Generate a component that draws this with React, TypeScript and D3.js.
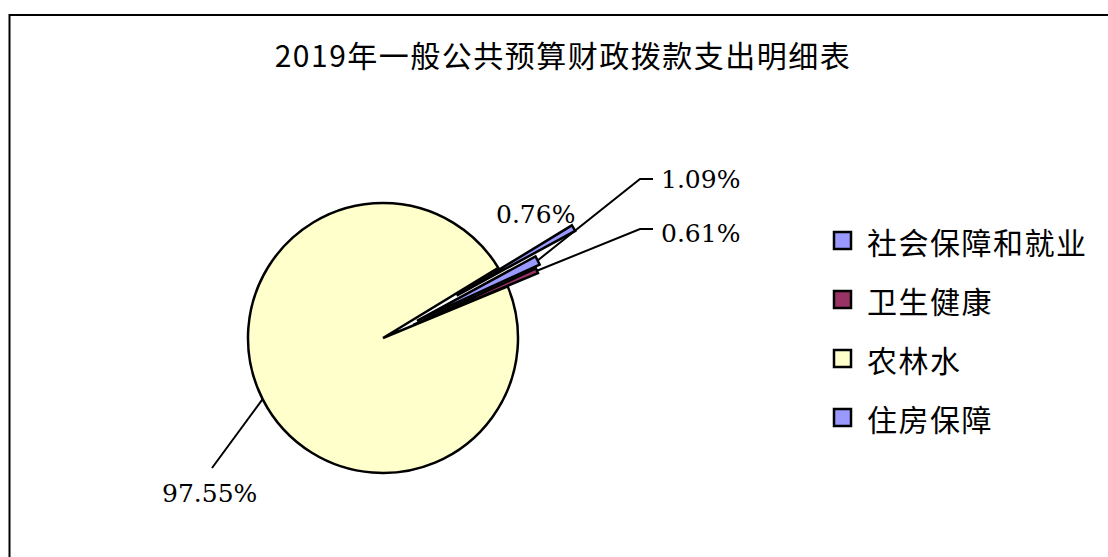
import React from "react";
import * as d3 from "d3";

// data
const categories = ["社会保障和就业", "卫生健康", "农林水", "住房保障"];
const shares = [1.09, 0.61, 97.55, 0.76];
const labels = ["1.09%", "0.61%", "97.55%", "0.76%"];
const title = "2019年一般公共预算财政拨款支出明细表";

// styles / layout
const W = 1108;
const H = 557;
const colors = ["#9999FF", "#993366", "#FFFFCC", "#9999FF"];
const explode = [38, 33, 0, 85];
const cx = 383;
const cy = 338;
const R = 135;
const startDeg = 61.4;
// label anchor positions (text start / baseline) and whether a leader line is drawn
const labelPos: { x: number; y: number; leader: boolean; elbow?: [number, number] }[] = [
  { x: 661, y: 188, leader: true, elbow: [640, 179] },
  { x: 661, y: 242, leader: true, elbow: [640, 229] },
  { x: 162, y: 502, leader: true, elbow: [212, 468] },
  { x: 496, y: 223, leader: false },
];
const cjk = "'Noto Sans CJK SC', 'Noto Sans', sans-serif";
const num = "'DejaVu Serif', serif";

const App = () => {
  const pie = d3
    .pie<number>()
    .sort(null)
    .value((d) => d)
    .startAngle((startDeg * Math.PI) / 180)
    .endAngle((startDeg * Math.PI) / 180 + 2 * Math.PI);
  const arcs = pie(shares);
  const arc = d3.arc<d3.PieArcDatum<number>>().innerRadius(0).outerRadius(R);

  const dir = (a: d3.PieArcDatum<number>) => {
    const m = (a.startAngle + a.endAngle) / 2;
    return [Math.sin(m), -Math.cos(m)];
  };

  // draw the big slice first, then small ones on top
  const order = [2, 0, 1, 3];

  return (
    <svg
      width={W}
      height={H}
      style={{ position: "absolute", left: 0, top: 0, background: "#fff" }}
    >
      <rect x={9.5} y={15} width={W + 20} height={H + 20} fill="#fff" stroke="#000" strokeWidth={2} />
      <text
        x={563}
        y={54}
        textAnchor="middle"
        dominantBaseline="central"
        fontFamily={cjk}
        fontSize={30}
        letterSpacing={1.5}
        fill="#000"
      >
        {title}
      </text>
      <g transform={`translate(${cx},${cy})`}>
        {order.map((i) => {
          const a = arcs[i];
          const [ux, uy] = dir(a);
          const off = explode[i];
          return (
            <path
              key={i}
              d={arc(a) || ""}
              transform={`translate(${ux * off},${uy * off})`}
              fill={colors[i]}
              stroke="#000"
              strokeWidth={2.5}
              strokeLinejoin="miter"
            />
          );
        })}
      </g>
      {arcs.map((a, i) => {
        const lp = labelPos[i];
        if (!lp.leader || !lp.elbow) return null;
        const [ux, uy] = dir(a);
        const r = R + explode[i];
        const tx = cx + ux * r;
        const ty = cy + uy * r;
        const pts: [number, number][] =
          i === 2
            ? [[tx, ty], lp.elbow]
            : [[tx, ty], lp.elbow, [lp.elbow[0] + 13, lp.elbow[1]]];
        return (
          <path
            key={"l" + i}
            d={d3.line()(pts) || ""}
            fill="none"
            stroke="#000"
            strokeWidth={2}
          />
        );
      })}
      {arcs.map((a, i) => (
        <text
          key={"t" + i}
          x={labelPos[i].x}
          y={labelPos[i].y}
          fontFamily={num}
          fontSize={25}
          fill="#000"
        >
          {labels[i]}
        </text>
      ))}
      <g transform="translate(834,241)">
        {categories.map((c, i) => (
          <g key={c} transform={`translate(0,${i * 59})`}>
            <rect x={0} y={-9} width={17} height={17} fill={colors[i]} stroke="#000" strokeWidth={2.5} />
            <text
              x={33}
              y={0}
              dominantBaseline="central"
              fontFamily={cjk}
              fontSize={30}
              letterSpacing={1.5}
              fill="#000"
            >
              {c}
            </text>
          </g>
        ))}
      </g>
    </svg>
  );
};

export default App;
